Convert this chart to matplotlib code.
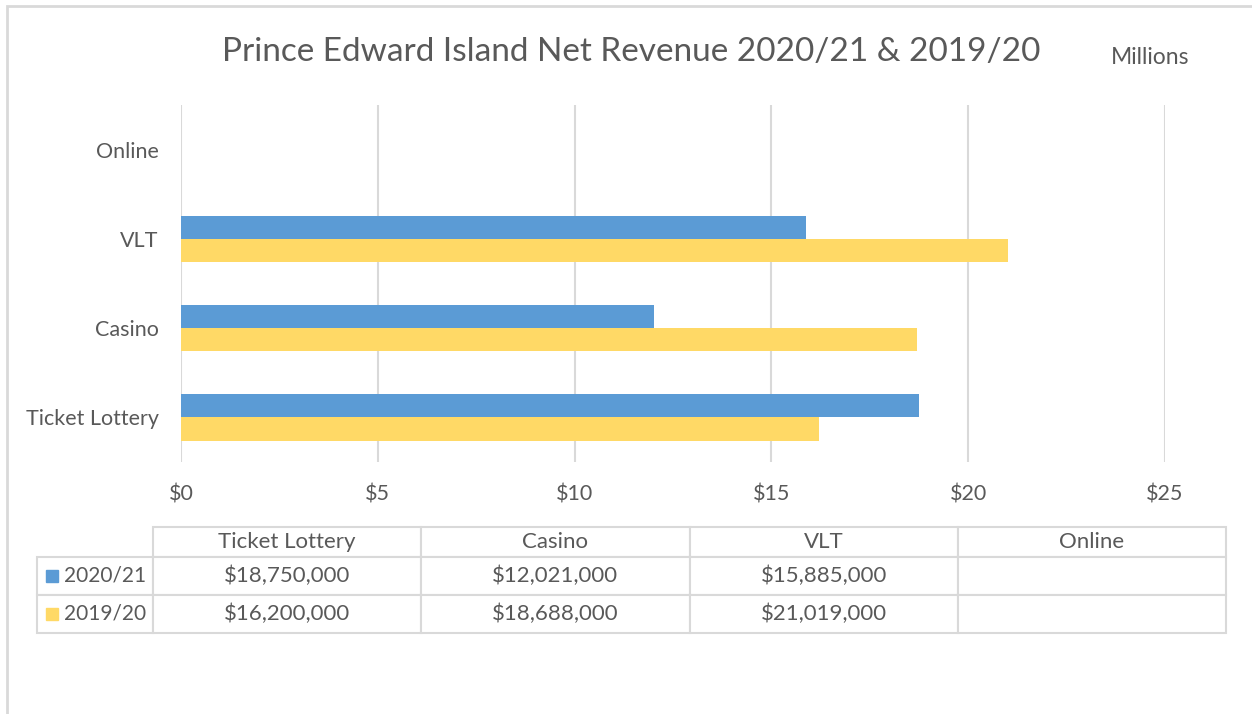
import numpy as np
import matplotlib
matplotlib.use("Agg")
import matplotlib.pyplot as plt
from matplotlib.patches import Rectangle

plt.rcParams['font.family'] = ['Lato', 'DejaVu Sans']

# data (millions)
categories = ["Ticket Lottery", "Casino", "VLT", "Online"]
series_names = ["2020/21", "2019/20"]
rev_2021 = [18.750, 12.021, 15.885, np.nan]
rev_1920 = [16.200, 18.688, 21.019, np.nan]
table_2021 = ["$18,750,000", "$12,021,000", "$15,885,000", ""]
table_1920 = ["$16,200,000", "$18,688,000", "$21,019,000", ""]
xticks = [0, 5, 10, 15, 20, 25]

BLUE = "#5B9BD5"
YELLOW = "#FFD966"
GRID = "#D9D9D9"
TXT = "#595959"

W, H = 1252, 714
fig = plt.figure(figsize=(W / 100, H / 100), dpi=100)

def fbox(x0, y0, x1, y1):
    # pixel box (top-left origin) -> figure fraction rect
    return [x0 / W, 1 - y1 / H, (x1 - x0) / W, (y1 - y0) / H]

# chart frame
fig.patches.append(Rectangle((7 / W, -0.1), 1.2, 1 - 6 / H + 0.1, transform=fig.transFigure,
                             fill=False, edgecolor=GRID, lw=2))

ax = fig.add_axes(fbox(181, 105, 1165, 462))
y = np.arange(len(categories))
h = 0.26
ax.barh(y + h / 2, rev_2021, height=h, color=BLUE, zorder=3)
ax.barh(y - h / 2, rev_1920, height=h, color=YELLOW, zorder=3)
ax.set_xlim(0, 25)
ax.set_ylim(-0.5, 3.5)
ax.set_xticks(xticks)
ax.set_xticklabels(["$" + str(t) for t in xticks])
ax.set_yticks(y)
ax.set_yticklabels(categories)
ax.tick_params(axis='both', length=0, labelsize=15.5, colors=TXT)
ax.tick_params(axis='x', pad=16)
ax.tick_params(axis='y', pad=16)
ax.xaxis.grid(True, color=GRID, lw=1.5, zorder=0)
for s in ax.spines.values():
    s.set_visible(False)

fig.text(631 / W, 1 - 52 / H, "Prince Edward Island Net Revenue 2020/21 & 2019/20",
         ha='center', va='center', fontsize=24, color=TXT)
fig.text(1150 / W, 1 - 58 / H, "Millions", ha='center', va='center', fontsize=16.5, color=TXT)

# data table
tab_ax = fig.add_axes(fbox(37, 527, 1226, 633))
tab_ax.axis('off')
cell_text = [[""] + categories,
             [series_names[0]] + table_2021,
             [series_names[1]] + table_1920]
col_w = [116] + [268] * 4
tbl = tab_ax.table(cellText=cell_text, colWidths=[c / sum(col_w) for c in col_w],
                   cellLoc='center', bbox=[0, 0, 1, 1])
tbl.auto_set_font_size(False)
row_h = [30, 38, 38]
for (r, c), cell in tbl.get_celld().items():
    cell.set_edgecolor(GRID)
    cell.set_linewidth(1.5)
    cell.set_height(row_h[r] / sum(row_h))
    cell.get_text().set_color(TXT)
    cell.get_text().set_fontsize(16)
    if r > 0:
        cell.get_text().set_y(cell.get_text().get_position()[1])
    if r == 0 and c == 0:
        cell.visible_edges = ''
    if c == 0 and r > 0:
        cell.get_text().set_ha('left')
        cell.get_text().set_fontsize(15)
        cell.PAD = 0.23

colors = [BLUE, YELLOW]
for i in range(2):
    yc = 1 - (30 + 38 * i + 19) / 106
    tab_ax.add_patch(Rectangle((9 / 1189, yc - 6 / 106), 12 / 1189, 12 / 106,
                               color=colors[i], transform=tab_ax.transAxes, clip_on=False))

fig.savefig("out.png", dpi=100)
